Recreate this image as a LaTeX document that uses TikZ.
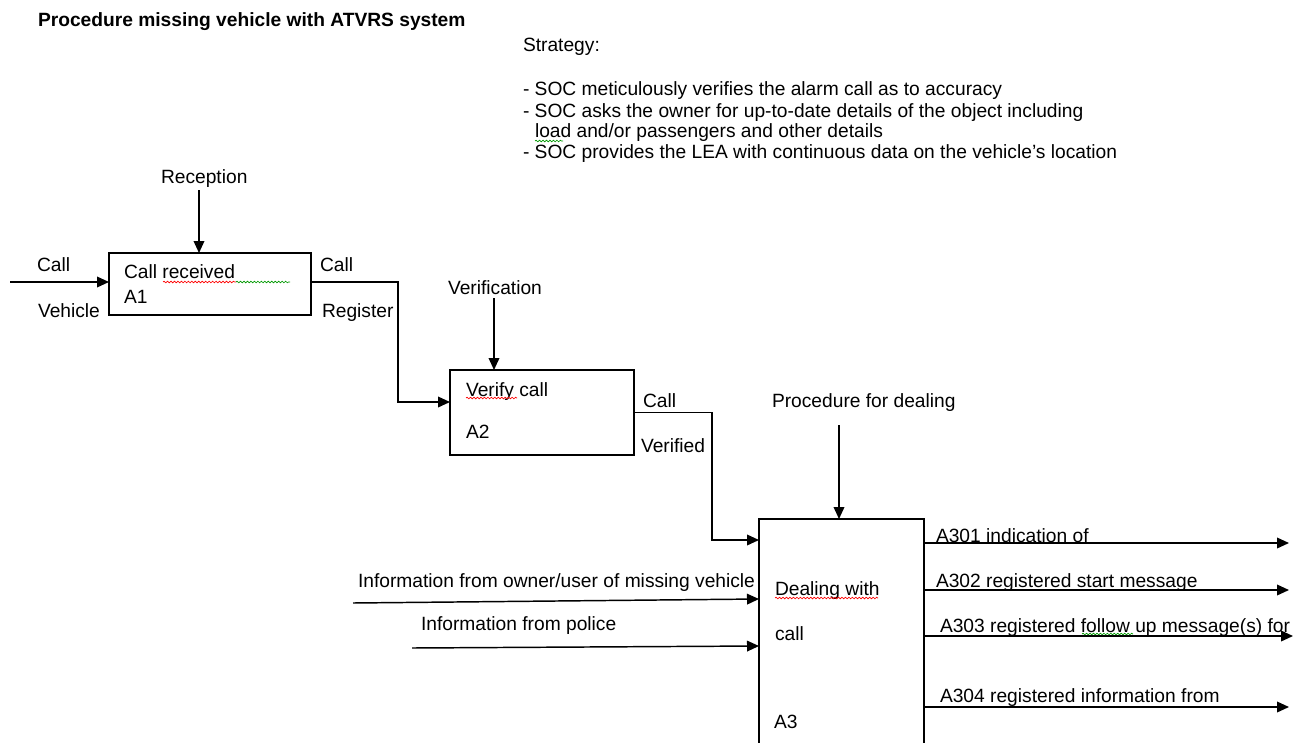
\documentclass[tikz,border=0pt]{standalone}
\usepackage{fontspec}
\setmainfont{Liberation Sans}
\usetikzlibrary{arrows.meta,calc,decorations.pathmorphing}
\tikzset{
  box/.style={draw, line width=1.2pt, inner sep=0pt, outer sep=0pt, rectangle},
  lbl/.style={anchor=base west, inner sep=0pt, outer sep=0pt, font=\fontsize{14.4}{17}\selectfont},
  arr/.style={line width=1.1pt, -{Triangle[length=9pt,width=8pt]}},
  squig/.style={decorate, decoration={snake, segment length=2.6pt, amplitude=0.6pt}, line width=0.5pt}
}
\begin{document}
\begin{tikzpicture}[x=0.75pt,y=-0.75pt]
\useasboundingbox (0,0) rectangle (1309,742);
\clip (0,0) rectangle (1309,742);
\fill[white] (0,0) rectangle (1309,742);

% title and strategy
\node[lbl, font=\fontsize{14.4}{17}\selectfont\bfseries] (title) at (38,27) {Procedure missing vehicle with ATVRS system};
\node[lbl] (s0) at (523,52) {Strategy:};
\node[lbl] (s1) at (523,95) {- SOC meticulously verifies the alarm call as to accuracy};
\node[lbl] (s2) at (523,117) {- SOC asks the owner for up-to-date details of the object including};
\node[lbl] (s3) at (535,137) {load and/or passengers and other details};
\node[lbl] (s4) at (523,158) {- SOC provides the LEA with continuous data on the vehicle's location};

% boxes
\node[box, minimum width=151.5pt, minimum height=46.5pt] (A1) at (210,284) {};
\node[box, minimum width=138pt, minimum height=63.75pt] (A2) at (542,412.5) {};
\node[box, minimum width=123.75pt, minimum height=195.75pt] (A3) at (841.5,649.5) {};

% box texts
\node[lbl] (t1a) at (124,278) {Call received};
\node[lbl] (t1b) at (124,303) {A1};
\node[lbl] (t2a) at (466,396) {Verify call};
\node[lbl] (t2b) at (466,438) {A2};
\node[lbl] (t3a) at (775,595) {Dealing with};
\node[lbl] (t3b) at (775,640) {call};
\node[lbl] (t3c) at (774,728) {A3};

% labels
\node[lbl] (lrec) at (161,183) {Reception};
\node[lbl] (lcall1) at (37,271) {Call};
\node[lbl] (lveh) at (38,317) {Vehicle};
\node[lbl] (lcall2) at (320,271) {Call};
\node[lbl] (lreg) at (322,317) {Register};
\node[lbl] (lver) at (448,294) {Verification};
\node[lbl] (lcall3) at (643,407) {Call};
\node[lbl] (lverd) at (641,452) {Verified};
\node[lbl] (lproc) at (772,407) {Procedure for dealing};
\node[lbl] (lown) at (358,587) {Information from owner/user of missing vehicle};
\node[lbl] (lpol) at (421,630) {Information from police};
\node[lbl] (lo1) at (936,542) {A301 indication of};
\node[lbl] (lo2) at (936,587) {A302 registered start message};
\node[lbl] (lo3) at (940,632) {A303 registered follow up message(s) for};
\node[lbl] (lo4) at (940,702) {A304 registered information from};

% free ends
\coordinate (in1) at (10,282);
\coordinate (rec) at (199,190);
\coordinate (ver) at (494,298);
\coordinate (proc) at (839,425);
\coordinate (own) at (353,603);
\coordinate (pol) at (412,648);
\coordinate (o1) at (1289,543);
\coordinate (o2) at (1289,590);
\coordinate (o3) at (1293,636);
\coordinate (o4) at (1289,707);

% connectors
\draw[arr] (in1) -- (in1 -| A1.west);
\draw[arr] (rec) -- (rec |- A1.north);
\draw[arr] ($(A1.east)+(0,-2)$) -- ++(87,0) |- ($(A2.west)+(0,-10.5)$);
\draw[arr] (ver) -- (ver |- A2.north);
\draw[arr] (A2.east) -- ++(78,0) |- ($(A3.north west)+(0,21)$);
\draw[arr] (proc) -- (proc |- A3.north);
\draw[arr] (own) -- ($(A3.north west)+(0,80)$);
\draw[arr] (pol) -- ($(A3.north west)+(0,127)$);
\draw[arr] ($(A3.north east)+(0,24)$) -- (o1);
\draw[arr] ($(A3.north east)+(0,71)$) -- (o2);
\draw[arr] ($(A3.north east)+(0,117)$) -- (o3);
\draw[arr] ($(A3.north east)+(0,188)$) -- (o4);

% spell-check squiggles
\draw[squig, red] (163,282) -- (236,282);
\draw[squig, green!60!black] (236,282) -- (290,282);
\draw[squig, red] (466,398) -- (517,398);
\draw[squig, red] (775,598) -- (878,598);
\draw[squig, green!60!black] (535,141) -- (563,141);
\draw[squig, green!60!black] (1082,634) -- (1133,634);
\end{tikzpicture}
\end{document}
